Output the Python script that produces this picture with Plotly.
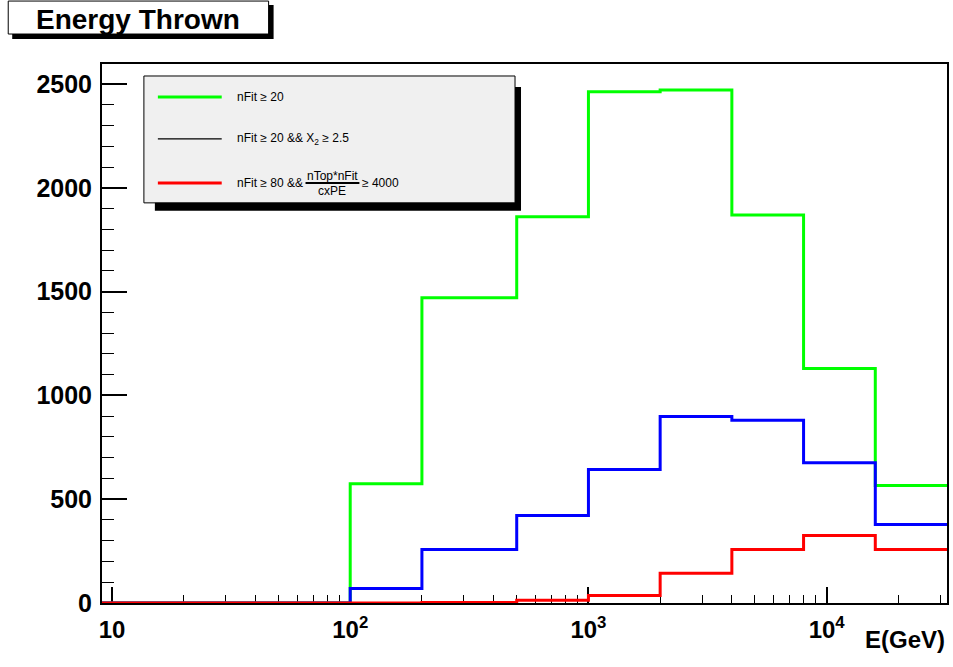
import math
import plotly.graph_objects as go

# Energy bin edges (GeV) and histogram contents per selection
bin_edges = [9.08, 20, 50, 100, 200, 500, 1000, 2000, 4000, 8000, 16000, 32000]
counts_nfit20 = [0, 0, 0, 575, 1471, 1861, 2463, 2472, 1870, 1130, 566]
counts_nfit20_x2 = [0, 0, 0, 70, 258, 421, 643, 898, 880, 676, 378]
counts_nfit80_ratio = [0, 0, 0, 0, 2, 13, 36, 143, 258, 325, 258]

series_colors = ["#00ff00", "#0000ff", "#ff0000"]
major_x = [10, 100, 1000, 10000]
major_x_text = ["10", "10<sup>2</sup>", "10<sup>3</sup>", "10<sup>4</sup>"]
y_major = [0, 500, 1000, 1500, 2000, 2500]
y_top = 2597

FONT = "Liberation Sans, Arial, Helvetica, sans-serif"
W, H = 953, 667
L, R, T, B = 102, 949, 64, 603.5


def px(x):
    return (x - L) / (R - L)


def py(y):
    return (B - y) / (B - T)


fig = go.Figure()

for counts, color in zip([counts_nfit20, counts_nfit20_x2, counts_nfit80_ratio], series_colors):
    fig.add_trace(go.Scatter(
        x=bin_edges,
        y=counts + [counts[-1]],
        mode="lines",
        line=dict(color=color, width=3, shape="hv"),
        showlegend=False,
        hoverinfo="skip",
    ))

minor_x = [m * d for d in [1, 10, 100, 1000, 10000] for m in range(2, 10)
           if bin_edges[0] < m * d < bin_edges[-1]]

fig.update_xaxes(
    type="log",
    range=[math.log10(bin_edges[0]), math.log10(bin_edges[-1])],
    tickmode="array", tickvals=major_x, ticktext=major_x_text,
    ticks="inside", ticklen=16, tickwidth=1.5, tickcolor="black",
    minor=dict(tickmode="array", tickvals=minor_x, ticks="inside",
               ticklen=8, tickwidth=1.2, tickcolor="black", showgrid=False),
    showline=True, linecolor="black", linewidth=2, mirror=True,
    showgrid=False, zeroline=False, layer="below traces",
    tickfont=dict(family=FONT, size=24, color="black", weight="bold"),
    ticklabelstandoff=4,
)
fig.update_yaxes(
    range=[0, y_top],
    tickmode="array", tickvals=y_major,
    ticks="inside", ticklen=25, tickwidth=1.5, tickcolor="black",
    minor=dict(dtick=100, ticks="inside", ticklen=12, tickwidth=1.2,
               tickcolor="black", showgrid=False),
    showline=True, linecolor="black", linewidth=2, mirror=True,
    showgrid=False, zeroline=False, layer="below traces",
    tickfont=dict(family=FONT, size=25, color="black", weight="bold"),
    ticklabelstandoff=3,
)

shapes = []
annotations = []

# Title box with drop shadow
shapes.append(dict(type="rect", xref="paper", yref="paper",
                   x0=px(12), x1=px(274), y0=py(5), y1=py(39),
                   fillcolor="black", line=dict(width=0), layer="above"))
shapes.append(dict(type="rect", xref="paper", yref="paper",
                   x0=px(8), x1=px(269), y0=py(1), y1=py(34),
                   fillcolor="white", line=dict(color="black", width=1), layer="above"))
annotations.append(dict(xref="paper", yref="paper", x=px(138), y=py(19),
                        text="<b>Energy Thrown</b>", showarrow=False,
                        xanchor="center", yanchor="middle",
                        font=dict(family=FONT, size=28, color="black")))

# Legend box with drop shadow
shapes.append(dict(type="rect", xref="paper", yref="paper",
                   x0=px(155), x1=px(522), y0=py(87), y1=py(211),
                   fillcolor="black", line=dict(width=0), layer="above"))
shapes.append(dict(type="rect", xref="paper", yref="paper",
                   x0=px(144), x1=px(516), y0=py(76), y1=py(203),
                   fillcolor="#f0f0f0", line=dict(color="black", width=1), layer="above"))

legend_rows = [
    (97, "#00ff00", 3),
    (139, "#000000", 1.2),
    (183, "#ff0000", 3),
]
for ypix, color, width in legend_rows:
    shapes.append(dict(type="line", xref="paper", yref="paper",
                       x0=px(158), x1=px(222), y0=py(ypix), y1=py(ypix),
                       line=dict(color=color, width=width), layer="above"))

leg_font = dict(family=FONT, size=12, color="black")
annotations.append(dict(xref="paper", yref="paper", x=px(235), y=py(97),
                        text="nFit ≥ 20", showarrow=False,
                        xanchor="left", yanchor="middle", font=leg_font))
annotations.append(dict(xref="paper", yref="paper", x=px(235), y=py(139),
                        text="nFit ≥ 20 && X<sub>2</sub> ≥ 2.5", showarrow=False,
                        xanchor="left", yanchor="middle", font=leg_font))
annotations.append(dict(xref="paper", yref="paper", x=px(235), y=py(183),
                        text="nFit ≥ 80 &&", showarrow=False,
                        xanchor="left", yanchor="middle", font=leg_font))
annotations.append(dict(xref="paper", yref="paper", x=px(333), y=py(176),
                        text="nTop*nFit", showarrow=False,
                        xanchor="center", yanchor="middle", font=leg_font))
annotations.append(dict(xref="paper", yref="paper", x=px(333), y=py(191),
                        text="cxPE", showarrow=False,
                        xanchor="center", yanchor="middle", font=leg_font))
shapes.append(dict(type="line", xref="paper", yref="paper",
                   x0=px(306), x1=px(360), y0=py(183), y1=py(183),
                   line=dict(color="black", width=2), layer="above"))
annotations.append(dict(xref="paper", yref="paper", x=px(361), y=py(183),
                        text="≥ 4000", showarrow=False,
                        xanchor="left", yanchor="middle", font=leg_font))

# X-axis title, right aligned under the frame
annotations.append(dict(xref="paper", yref="paper", x=1.0, y=py(640),
                        text="<b>E(GeV)</b>", showarrow=False,
                        xanchor="right", yanchor="middle",
                        font=dict(family=FONT, size=24, color="black")))

fig.update_layout(
    width=W, height=H,
    margin=dict(l=L, r=W - R, t=T, b=H - B, pad=0),
    paper_bgcolor="white", plot_bgcolor="white",
    shapes=shapes, annotations=annotations,
    showlegend=False,
)

fig.write_html("out.html")
